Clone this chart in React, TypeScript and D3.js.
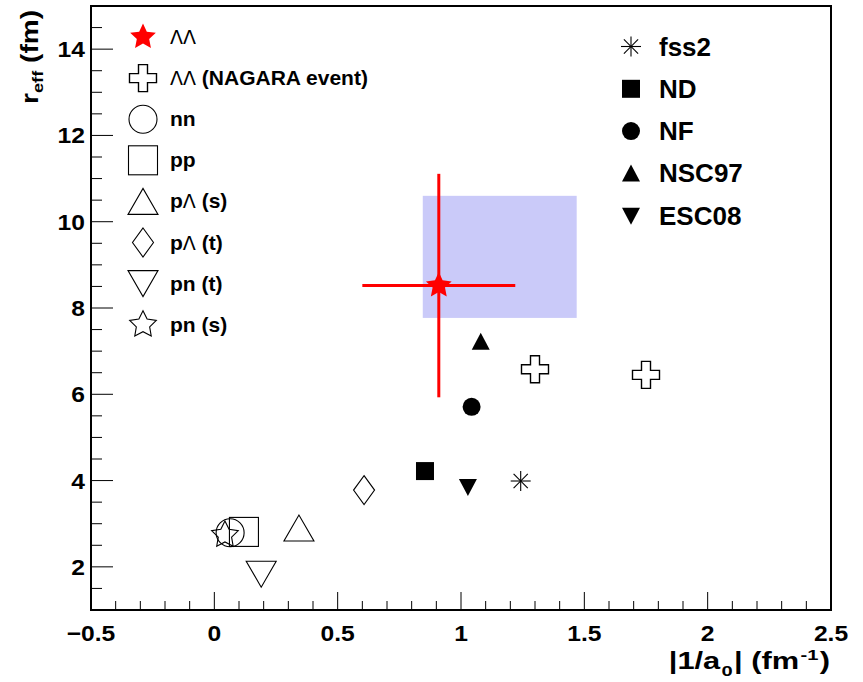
import React from "react";
import * as d3 from "d3";

// ---------- data ----------
const xTicks = [-0.5, 0, 0.5, 1, 1.5, 2, 2.5];
const yTicks = [2, 4, 6, 8, 10, 12, 14];

// measured ΛΛ point with errors
const llX = 0.91, llY = 8.52, llXErr = 0.31, llYErr = 2.59;
// shaded band (x range, y range)
const bandX = [0.845, 1.469];
const bandY = [7.77, 10.6];
// NAGARA event
const nagaraX = [1.30, 1.75];
const nagaraY = [6.58, 6.45];
// nucleon / hyperon systems (open markers)
const openNames = ["nn", "pp", "pΛ (s)", "pΛ (t)", "pn (t)", "pn (s)"];
const openKinds = ["circle", "square", "tri", "diamond", "tridown", "star"];
const openX = [0.064, 0.12, 0.343, 0.607, 0.19, 0.043];
const openY = [2.79, 2.81, 2.90, 3.78, 1.83, 2.74];
// models (filled markers)
const modelNames = ["fss2", "ND", "NF", "NSC97", "ESC08"];
const modelKinds = ["asterisk", "fsquare", "fcircle", "ftri", "ftridown"];
const modelX = [1.242, 0.854, 1.043, 1.080, 1.028];
const modelY = [3.99, 4.22, 5.71, 7.22, 3.85];

// ---------- layout ----------
const W = 863, H = 682;
const L = 91, R = 831, T = 6, B = 610;
const FONT = "'Liberation Sans', Arial, Helvetica, sans-serif";

const x = d3.scaleLinear().domain([-0.5, 2.5]).range([L, R]);
const y = d3.scaleLinear().domain([1, 15]).range([B, T]);

function starPath(R0: number, r0: number) {
  const pts: [number, number][] = [];
  for (let i = 0; i < 10; i++) {
    const a = -Math.PI / 2 + (i * Math.PI) / 5;
    const rr = i % 2 === 0 ? R0 : r0;
    pts.push([rr * Math.cos(a), rr * Math.sin(a)]);
  }
  return d3.line()(pts.concat([pts[0]])) + "Z";
}

function crossPath(s: number) {
  const h = s / 2, a = s / 6;
  const pts: [number, number][] = [
    [-a, -h], [a, -h], [a, -a], [h, -a], [h, a], [a, a], [a, h], [-a, h], [-a, a], [-h, a], [-h, -a], [-a, -a],
  ];
  return d3.line()(pts) + "Z";
}

function Marker({ kind, cx, cy }: { kind: string; cx: number; cy: number }) {
  const open = { fill: "none", stroke: "#000", strokeWidth: 1.1 };
  const full = { fill: "#000", stroke: "none" };
  const g = (el: React.ReactNode) => <g transform={`translate(${cx},${cy})`}>{el}</g>;
  switch (kind) {
    case "circle":
      return g(<circle r={14} {...open} />);
    case "square":
      return g(<rect x={-14.5} y={-14.5} width={29} height={29} {...open} />);
    case "tri":
      return g(<path d={d3.line()([[-15, 13], [15, 13], [0, -13]]) + "Z"} {...open} />);
    case "tridown":
      return g(<path d={d3.line()([[-15, -13], [15, -13], [0, 13]]) + "Z"} {...open} />);
    case "diamond":
      return g(<path d={d3.line()([[0, -14.5], [10.5, 0], [0, 14.5], [-10.5, 0]]) + "Z"} {...open} />);
    case "star":
      return g(<path d={starPath(14, 7)} {...open} />);
    case "cross":
      return g(<path d={crossPath(27)} {...open} strokeWidth={1.4} />);
    case "redstar":
      return g(<path d={starPath(13.5, 6.5)} fill="#ff0000" />);
    case "asterisk": {
      const s = 10, d = 7.1;
      return g(
        <g stroke="#000" strokeWidth={1.1}>
          <line x1={-s} y1={0} x2={s} y2={0} />
          <line x1={0} y1={-s} x2={0} y2={s} />
          <line x1={-d} y1={-d} x2={d} y2={d} />
          <line x1={-d} y1={d} x2={d} y2={-d} />
        </g>
      );
    }
    case "fsquare":
      return g(<rect x={-9} y={-9} width={18} height={18} {...full} />);
    case "fcircle":
      return g(<circle r={9} {...full} />);
    case "ftri":
      return g(<path d={d3.line()([[-9, 8], [9, 8], [0, -9]]) + "Z"} {...full} />);
    case "ftridown":
      return g(<path d={d3.line()([[-9, -8], [9, -8], [0, 9]]) + "Z"} {...full} />);
  }
  return null;
}

const leftLegend = [
  { kind: "redstar", label: ["ΛΛ", ""] },
  { kind: "cross", label: ["ΛΛ", " (NAGARA event)"] },
  ...openNames.map((n, i) => ({ kind: openKinds[i], label: n.includes("Λ") ? [n.split("Λ")[0], "Λ", n.split("Λ")[1]] : [n] })),
];

export default function App() {
  const xMinor = d3.range(-0.5, 2.5001, 0.1).map((v) => +v.toFixed(2));
  const yMinor = d3.range(1, 15.001, 0.5).map((v) => +v.toFixed(2));

  return (
    <svg width={W} height={H} style={{ position: "absolute", left: 0, top: 0, background: "#fff" }} fontFamily={FONT}>
      <rect width={W} height={H} fill="#fff" />
      {/* band */}
      <rect x={x(bandX[0])} y={y(bandY[1])} width={x(bandX[1]) - x(bandX[0])} height={y(bandY[0]) - y(bandY[1])} fill="#cacaf9" />

      {/* ticks */}
      {xMinor.map((v, i) => {
        const major = Math.abs(v * 2 - Math.round(v * 2)) < 1e-6;
        return <line key={"xt" + i} x1={x(v)} x2={x(v)} y1={B} y2={B - (major ? 18 : 9)} stroke="#000" strokeWidth={1} />;
      })}
      {yMinor.map((v, i) => {
        const major = Math.abs(v / 2 - Math.round(v / 2)) < 1e-6;
        return <line key={"yt" + i} x1={L} x2={L + (major ? 22 : 11)} y1={y(v)} y2={y(v)} stroke="#000" strokeWidth={1} />;
      })}
      {/* frame */}
      <rect x={L} y={T} width={R - L} height={B - T} fill="none" stroke="#000" strokeWidth={2} />

      {/* tick labels */}
      {xTicks.map((v) => (
        <g key={"xl" + v} transform={`translate(${x(v)},641) scale(1.12,1)`}>
          <text textAnchor="middle" fontSize={22} fontWeight="bold">
            {v < 0 ? "\u2212" + Math.abs(v) : String(v)}
          </text>
        </g>
      ))}
      {yTicks.map((v) => (
        <g key={"yl" + v} transform={`translate(85,${y(v) + 8}) scale(1.12,1)`}>
          <text textAnchor="end" fontSize={22} fontWeight="bold">
            {v}
          </text>
        </g>
      ))}

      {/* axis titles */}
      <g transform="translate(830,669) scale(1.34,1)">
        <text textAnchor="end" fontSize={23} fontWeight="bold">
          |1/a<tspan fontSize={15} dy={7} dx={1}>0</tspan>
          <tspan dy={-7} dx={1}>| (fm</tspan>
          <tspan fontSize={15} dy={-9} dx={1}>-1</tspan>
          <tspan dy={9} dx={1}>)</tspan>
        </text>
      </g>
      <g transform="translate(38,10) rotate(-90) scale(1.22,1)">
        <text textAnchor="end" fontSize={23} fontWeight="bold">
          r<tspan fontSize={15} dy={5}>eff</tspan>
          <tspan dy={-5}> (fm)</tspan>
        </text>
      </g>

      {/* data */}
      {openX.map((v, i) => (
        <Marker key={"o" + i} kind={openKinds[i]} cx={x(v)} cy={y(openY[i])} />
      ))}
      {nagaraX.map((v, i) => (
        <Marker key={"n" + i} kind="cross" cx={x(v)} cy={y(nagaraY[i])} />
      ))}
      {modelX.map((v, i) => (
        <Marker key={"m" + i} kind={modelKinds[i]} cx={x(v)} cy={y(modelY[i])} />
      ))}
      <g stroke="#ff0000" strokeWidth={3}>
        <line x1={x(llX - llXErr)} x2={x(llX + llXErr)} y1={y(llY)} y2={y(llY)} />
        <line x1={x(llX)} x2={x(llX)} y1={y(llY - llYErr)} y2={y(llY + llYErr)} />
      </g>
      <Marker kind="redstar" cx={x(llX)} cy={y(llY)} />

      {/* left legend */}
      {leftLegend.map((e, i) => {
        const cy = 37 + i * 41.1;
        return (
          <g key={"ll" + i}>
            <Marker kind={e.kind} cx={143} cy={cy} />
            <text x={170} y={cy + 7} fontSize={21} fontWeight="bold">
              {e.label.map((p, j) =>
                p === "Λ" || p === "ΛΛ" ? (
                  <tspan key={j} fontWeight="normal" fontFamily="'DejaVu Sans', sans-serif" fontSize={19}>{p}</tspan>
                ) : (
                  <tspan key={j}>{p}</tspan>
                )
              )}
            </text>
          </g>
        );
      })}

      {/* right legend */}
      {modelNames.map((n, i) => {
        const cy = 46.5 + i * 42.3;
        return (
          <g key={"rl" + i}>
            <Marker kind={modelKinds[i]} cx={631} cy={cy} />
            <text x={659} y={cy + 9} fontSize={26} fontWeight="bold">{n}</text>
          </g>
        );
      })}
    </svg>
  );
}
